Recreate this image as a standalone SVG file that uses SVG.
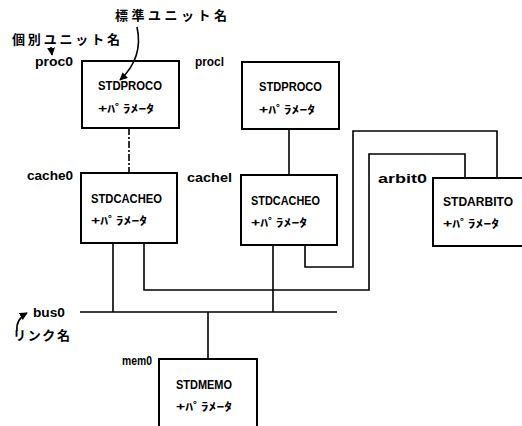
<svg xmlns="http://www.w3.org/2000/svg" width="522" height="426" viewBox="0 0 522 426">
<style>
.box{fill:#fff;stroke:#000;stroke-width:2}
.ln{fill:none;stroke:#000;stroke-width:1.6}
.t{font-family:"Liberation Sans","Noto Sans CJK JP",sans-serif;font-weight:bold;font-size:12px;fill:#000}
.p{font-family:"Noto Sans CJK JP",sans-serif;font-weight:bold;font-size:11px;fill:#000}
.j{font-family:"Noto Sans CJK JP",sans-serif;font-weight:bold;font-size:13px;fill:#000}
</style>
<defs>
<marker id="ah" viewBox="0 0 10 10" refX="9" refY="5" markerWidth="5" markerHeight="5" orient="auto">
<path d="M0,0 L10,5 L0,10 z" fill="#000"/>
</marker>
</defs>
<rect width="522" height="426" fill="#fff"/>
<g id="connectors">
<line class="ln" x1="129" y1="128" x2="129" y2="173" stroke-dasharray="7 2 2 2"/>
<line class="ln" x1="289" y1="129" x2="289" y2="175"/>
<line class="ln" x1="113" y1="243" x2="113" y2="312"/>
<line class="ln" x1="273" y1="245" x2="273" y2="312"/>
<polyline class="ln" points="144,243 144,290 369,290 369,154 465,154 465,178"/>
<polyline class="ln" points="305,245 305,267 353,267 353,131 497,131 497,178"/>
<line class="ln" x1="80" y1="312" x2="337" y2="312"/>
<line class="ln" x1="208" y1="312" x2="208" y2="359"/>
</g>
<g id="proc0">
<rect class="box" x="82" y="61" width="97" height="67"/>
<text class="t" x="35" y="66" textLength="38" lengthAdjust="spacingAndGlyphs">proc0</text>
<text class="t" x="98" y="90" textLength="64" lengthAdjust="spacingAndGlyphs">STDPROCO</text>
<text class="p" x="98" y="113" textLength="56" lengthAdjust="spacingAndGlyphs">+ﾊﾟﾗﾒｰﾀ</text>
</g>
<g id="proc1">
<rect class="box" x="242" y="62" width="97" height="67"/>
<text class="t" x="195" y="66" textLength="29" lengthAdjust="spacingAndGlyphs">procl</text>
<text class="t" x="259" y="91" textLength="63" lengthAdjust="spacingAndGlyphs">STDPROCO</text>
<text class="p" x="259" y="114" textLength="56" lengthAdjust="spacingAndGlyphs">+ﾊﾟﾗﾒｰﾀ</text>
</g>
<g id="cache0">
<rect class="box" x="81" y="173" width="96" height="70"/>
<text class="t" x="27" y="180" textLength="46" lengthAdjust="spacingAndGlyphs">cache0</text>
<text class="t" x="91" y="203" textLength="71" lengthAdjust="spacingAndGlyphs">STDCACHEO</text>
<text class="p" x="91" y="225" textLength="56" lengthAdjust="spacingAndGlyphs">+ﾊﾟﾗﾒｰﾀ</text>
</g>
<g id="cache1">
<rect class="box" x="241" y="175" width="96" height="70"/>
<text class="t" x="187" y="182" textLength="45" lengthAdjust="spacingAndGlyphs">cachel</text>
<text class="t" x="251" y="205" textLength="69" lengthAdjust="spacingAndGlyphs">STDCACHEO</text>
<text class="p" x="251" y="227" textLength="56" lengthAdjust="spacingAndGlyphs">+ﾊﾟﾗﾒｰﾀ</text>
</g>
<g id="arbit0">
<rect class="box" x="433" y="178" width="100" height="68"/>
<text class="t" x="378" y="183" textLength="49" lengthAdjust="spacingAndGlyphs">arbit0</text>
<text class="t" x="443" y="206" textLength="70" lengthAdjust="spacingAndGlyphs">STDARBITO</text>
<text class="p" x="443" y="228" textLength="56" lengthAdjust="spacingAndGlyphs">+ﾊﾟﾗﾒｰﾀ</text>
</g>
<g id="bus0">
<text class="t" x="33" y="317" textLength="32" lengthAdjust="spacingAndGlyphs">bus0</text>
</g>
<g id="mem0">
<rect class="box" x="159" y="359" width="98" height="80"/>
<text class="t" x="122" y="365" textLength="30" lengthAdjust="spacingAndGlyphs">mem0</text>
<text class="t" x="176" y="389" textLength="56" lengthAdjust="spacingAndGlyphs">STDMEMO</text>
<text class="p" x="176" y="411" textLength="56" lengthAdjust="spacingAndGlyphs">+ﾊﾟﾗﾒｰﾀ</text>
</g>
<g id="annotations">
<text class="j" x="115" y="20" textLength="112" lengthAdjust="spacing">標準ユニット名</text>
<text class="j" x="12" y="44" textLength="108" lengthAdjust="spacing">個別ユニット名</text>
<text class="j" x="13" y="340" textLength="57" lengthAdjust="spacing">リンク名</text>
<path class="ln" d="M137,27 C141,45 137,64 120,80" marker-end="url(#ah)"/>
<path class="ln" d="M51,47 L52,55" marker-end="url(#ah)"/>
<path class="ln" d="M17,331 C16,323 20,317 27,313" marker-end="url(#ah)"/>
</g>
</svg>
